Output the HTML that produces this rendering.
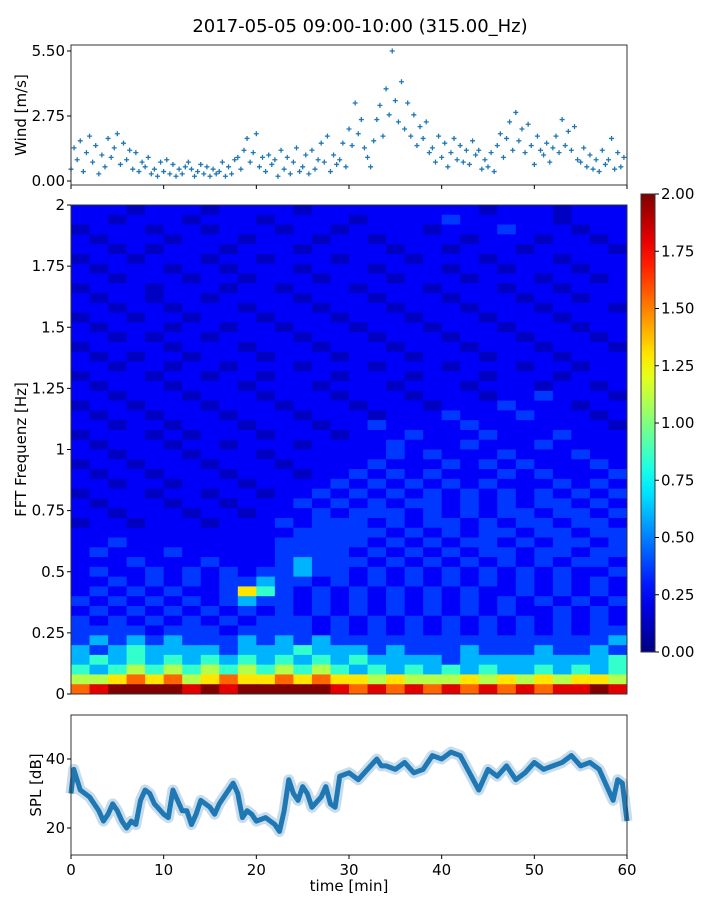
<!DOCTYPE html>
<html><head><meta charset="utf-8"><style>
body{margin:0;background:#fff;}
svg text{font-family:"DejaVu Sans","Liberation Sans",sans-serif;fill:#000;}
</style></head><body>
<svg id="fig" width="720" height="900" xmlns="http://www.w3.org/2000/svg">
<text x="360" y="32" font-size="18" text-anchor="middle">2017-05-05 09:00-10:00 (315.00_Hz)</text>
<g id="wind"></g>
<g id="spec"></g>
<g id="cbar"></g>
<g id="spl"></g>
</svg>
<script>
const windValues=[.5,1.4,.9,1.7,.4,1.2,1.9,.8,1.5,.3,1.1,.6,1.8,1.0,1.4,2.0,.7,1.6,.9,1.3,.5,1.2,.4,.8,.6,1.0,.3,.5,.2,.8,.4,.9,.3,.7,.2,.5,.3,.6,.8,.5,.2,.4,.7,.3,.6,.2,.5,.3,.4,.8,.2,.6,.3,.9,1.0,.5,1.3,1.8,.8,1.2,2.0,.6,1.0,.4,1.1,.7,.9,.2,1.3,.5,1.0,.3,.8,1.4,.4,.6,1.1,.3,1.3,.5,.9,1.6,.8,1.9,.4,1.1,.7,.9,1.6,.6,2.2,1.5,3.3,2.0,2.6,1.4,1.0,.6,1.7,2.6,3.2,1.9,3.9,2.8,5.5,3.4,2.5,4.2,2.2,3.3,1.9,2.8,1.5,2.3,1.8,2.5,1.2,1.4,.8,1.9,1.0,1.6,.6,1.2,1.8,.9,1.5,.8,1.3,.7,1.7,1.1,1.3,.5,.9,.6,1.2,.4,1.5,2.0,1.0,1.8,2.5,1.3,2.9,1.7,2.2,1.2,2.4,1.5,.7,1.9,1.3,1.1,1.6,.8,1.4,1.9,1.2,2.6,1.5,2.1,1.3,2.3,.9,.8,1.4,.6,1.1,.5,.9,.4,1.3,.7,.9,1.8,.5,1.2,.6,1.0];
const windTicks=[0,2.75,5.5];
const windTickLabels=["0.00","2.75","5.50"];
const timeTicks=[0,10,20,30,40,50,60];
const freqTicks=[0,0.25,0.5,0.75,1,1.25,1.5,1.75,2];
const freqTickLabels=["0","0.25","0.5","0.75","1","1.25","1.5","1.75","2"];
const cbarTicks=[0,0.25,0.5,0.75,1,1.25,1.5,1.75,2];
const levelValues=[0.13,0.24,0.36,0.6,0.85,1.1,1.3,1.55,1.8,2.0];
const specRows=[
"111011101111011111111101110111",
"110111011101111011112111110111",
"011101101110110111101112111011",
"101110111011101101111011101101",
"110101110111011110110111011110",
"011011101101110111011101110111",
"101110110111011101110110111011",
"110111011011101110111011101101",
"011101110110111011101110110111",
"101101101111011101110111011011",
"110110111011101110111011101110",
"011011011101110111011101110111",
"101110110110111011101110111011",
"110101101111011101110111011101",
"011110111011101110111011101110",
"101011011101110111011101110111",
"110110110111011101110111011011",
"011101101101110111011101110111",
"101110111011101110111011101101",
"110111011101110111011101121110",
"011011101110111011101112111011",
"101101110111011101112111211101",
"110110111011101121111211111110",
"011101011101110111211121112111",
"101110110111011112111211121111",
"110111011101111112121112111211",
"011011101110111121112121211121",
"101101110111011212121112121112",
"110110111011112121212121112121",
"011101101101121212121212121212",
"101110110111212121221212122121",
"110111011011121222121212212212",
"011011101112122212122121221221",
"111111111111222221212122122122",
"112111111112222212121221212212",
"121112111112222121212122122122",
"111211121112322212121212121221",
"121121212122322121212121212112",
"112121212232212121212121212121",
"121212112642121212121211212121",
"212121212322121212121212121212",
"121212121212121212121212112121",
"212121212122212121212121212121",
"222212221222212121212121212122",
"232323222323232222222222222223",
"323433332333433323222322232232",
"343434343434343433332333333334",
"434545454545454343434343343434",
"556767567667676656555656565665",
"789999898999998787878787878898"];
const splTime=[0,0.3,1,2,3,3.5,4,4.5,5,5.5,6,6.5,7,7.5,8,8.5,9,10,10.5,11,11.5,12,12.5,13,13.5,14,15,15.5,16,17,17.5,18,18.5,19,19.5,20,21,22,22.5,23,23.5,24,24.5,25,25.5,26,27,27.5,28,28.5,29,30,31,32,33,33.5,34,35,36,37,38,39,40,41,42,43,44,44.5,45,46,47,48,49,50,51,52,53,54,55,56,57,58,58.5,59,59.5,60];
const splValues=[30,37,31,29,25,22,24,27,25,22,20,22,21,28,31,30,27,24,23,31,28,25,25,21,24,28,26,24,27,31,33,30,23,25,24,22,23,21,19,25,34,30,28,32,30,26,29,32,27,26,35,36,34,37,40,38,38,37,39,36,37,41,40,42,41,36,31,34,37,35,38,34,36,39,37,38,39,41,38,39,37,31,28,34,33,22];

const NS="http://www.w3.org/2000/svg";
function el(tag,attrs,parent){const e=document.createElementNS(NS,tag);for(const k in attrs)e.setAttribute(k,attrs[k]);parent.appendChild(e);return e;}
const X0=71,X1=627;
const xs=t=>X0+(t/60)*(X1-X0);
function jet(v){v=Math.max(0,Math.min(1,v));const f=x=>Math.round(255*Math.max(0,Math.min(1,x)));
return `rgb(${f(1.5-Math.abs(4*v-3))},${f(1.5-Math.abs(4*v-2))},${f(1.5-Math.abs(4*v-1))})`;}

// WIND
const gw=document.getElementById('wind');
const WY0=45,WY1=185;const wy=v=>181-v*(130/5.5);
windValues.forEach((v,i)=>{const x=xs(i/3),y=wy(v);
 const p=el('path',{d:`M${x-2.5},${y}h5M${x},${y-2.5}v5`,stroke:'#1f77b4','stroke-width':1.3},gw);
 
 });
el('rect',{x:X0,y:WY0,width:X1-X0,height:WY1-WY0,fill:'none',stroke:'#333','stroke-width':1},gw);
windTicks.forEach((tk,i)=>{const y=wy(tk);el('line',{x1:X0-4,x2:X0,y1:y,y2:y,stroke:'#000'},gw);
 const tx=el('text',{x:X0-6,y:y+5,'font-size':15,'text-anchor':'end'},gw);tx.textContent=windTickLabels[i];
 
 });
timeTicks.forEach(tk=>el('line',{x1:xs(tk),x2:xs(tk),y1:WY1,y2:WY1+4,stroke:'#000'},gw));
let t=el('text',{x:0,y:0,'font-size':15,'text-anchor':'middle',transform:`translate(26,${(WY0+WY1)/2}) rotate(-90)`},gw);t.textContent='Wind [m/s]';



// SPECTROGRAM
const gs=document.getElementById('spec');
const SY0=205,SY1=694;const fy=f=>SY1-(f/2)*(SY1-SY0);
const nR=specRows.length,binF=2/nR;
specRows.forEach((row,r)=>{const fTop=2-r*binF;const nC=row.length;
 for(let c=0;c<nC;c++){const val=levelValues[parseInt(row[c])];
  const x=xs(c*60/nC),w=xs((c+1)*60/nC)-x;
  const rc=el('rect',{x:x,y:fy(fTop),width:w+0.5,height:fy(fTop-binF)-fy(fTop)+0.5,fill:jet(val/2)},gs);
  
  }});
el('rect',{x:X0,y:SY0,width:X1-X0,height:SY1-SY0,fill:'none',stroke:'#333'},gs);
freqTicks.forEach((f,i)=>{const y=fy(f);el('line',{x1:X0-4,x2:X0,y1:y,y2:y,stroke:'#000'},gs);
 const tx=el('text',{x:X0-6,y:y+5,'font-size':15,'text-anchor':'end'},gs);tx.textContent=freqTickLabels[i];
 
 });
t=el('text',{x:0,y:0,'font-size':15,'text-anchor':'middle',transform:`translate(26,${(SY0+SY1)/2}) rotate(-90)`},gs);t.textContent='FFT Frequenz [Hz]';



// COLORBAR
const gc=document.getElementById('cbar');
const CY0=194,CY1=652,CX=641,CW=14;
const defs=el('defs',{},gc);const lg=el('linearGradient',{id:'jetg',x1:0,y1:1,x2:0,y2:0},defs);
for(let i=0;i<=20;i++)el('stop',{offset:i/20,'stop-color':jet(i/20)},lg);
el('rect',{x:CX,y:CY0,width:CW,height:CY1-CY0,fill:'url(#jetg)',stroke:'#333'},gc);
cbarTicks.forEach(v=>{const y=CY1-(v/2)*(CY1-CY0);el('line',{x1:CX+CW,x2:CX+CW+4,y1:y,y2:y,stroke:'#000'},gc);
 const tx=el('text',{x:CX+CW+6,y:y+5,'font-size':15},gc);tx.textContent=v.toFixed(2);
 
 });

// SPL
const gp=document.getElementById('spl');
const PY0=715,PY1=855;const py=v=>759-(v-40)*(69/20);
const pts=splTime.map((tt,i)=>`${xs(tt)},${py(splValues[i])}`).join(' ');
let pl=el('polyline',{points:pts,fill:'none',stroke:'#1f77b4','stroke-opacity':0.25,'stroke-width':11,'stroke-linejoin':'round'},gp);


pl=el('polyline',{points:pts,fill:'none',stroke:'#1f77b4','stroke-width':5,'stroke-linejoin':'round'},gp);


el('rect',{x:X0,y:PY0,width:X1-X0,height:PY1-PY0,fill:'none',stroke:'#333'},gp);
[20,40].forEach(v=>{const y=py(v);el('line',{x1:X0-4,x2:X0,y1:y,y2:y,stroke:'#000'},gp);
 const tx=el('text',{x:X0-6,y:y+5,'font-size':15,'text-anchor':'end'},gp);tx.textContent=v;
 
 });
timeTicks.forEach(v=>{const x=xs(v);el('line',{x1:x,x2:x,y1:PY1,y2:PY1+4,stroke:'#000'},gp);
 const tx=el('text',{x:x,y:PY1+20,'font-size':15,'text-anchor':'middle'},gp);tx.textContent=v;
 
 });
t=el('text',{x:0,y:0,'font-size':15,'text-anchor':'middle',transform:`translate(41,${(PY0+PY1)/2}) rotate(-90)`},gp);t.textContent='SPL [dB]';


t=el('text',{x:(X0+X1)/2,y:891,'font-size':15,'text-anchor':'middle'},gp);t.textContent='time [min]';


</script>
</body></html>
